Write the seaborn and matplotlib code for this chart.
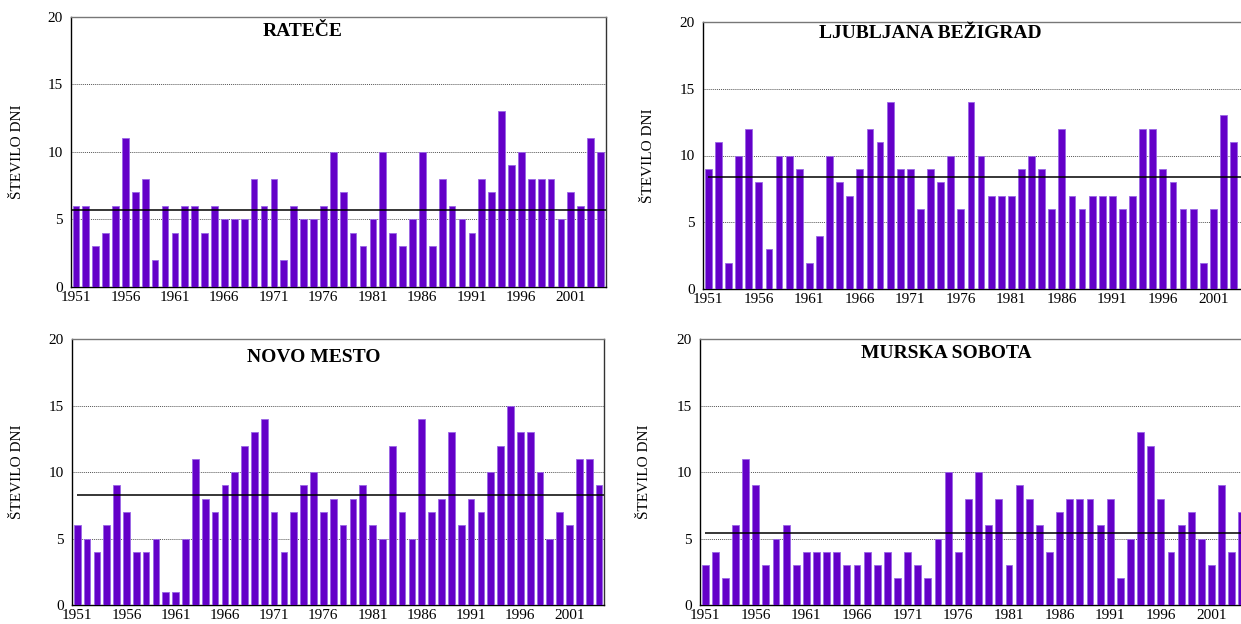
import numpy as np
import pandas as pd
import matplotlib
matplotlib.use("Agg")
import matplotlib.pyplot as plt
import seaborn as sns

# Yearly number of days per station
years_all = list(range(1951, 2005))

ratece = [6, 6, 3, 4, 6, 11, 7, 8, 2, 6,
          4, 6, 6, 4, 6, 5, 5, 5, 8, 6,
          8, 2, 6, 5, 5, 6, 10, 7, 4, 3,
          5, 10, 4, 3, 5, 10, 3, 8, 6, 5,
          4, 8, 7, 13, 9, 10, 8, 8, 8, 5,
          7, 6, 11, 10]

ljubljana = [9, 11, 2, 10, 12, 8, 3, 10, 10, 9,
             2, 4, 10, 8, 7, 9, 12, 11, 14, 9,
             9, 6, 9, 8, 10, 6, 14, 10, 7, 7,
             7, 9, 10, 9, 6, 12, 7, 6, 7, 7,
             7, 6, 7, 12, 12, 9, 8, 6, 6, 2,
             6, 13, 11]

novo_mesto = [6, 5, 4, 6, 9, 7, 4, 4, 5, 1,
              1, 5, 11, 8, 7, 9, 10, 12, 13, 14,
              7, 4, 7, 9, 10, 7, 8, 6, 8, 9,
              6, 5, 12, 7, 5, 14, 7, 8, 13, 6,
              8, 7, 10, 12, 15, 13, 13, 10, 5, 7,
              6, 11, 11, 9]

murska_sobota = [3, 4, 2, 6, 11, 9, 3, 5, 6, 3,
                 4, 4, 4, 4, 3, 3, 4, 3, 4, 2,
                 4, 3, 2, 5, 10, 4, 8, 10, 6, 8,
                 3, 9, 8, 6, 4, 7, 8, 8, 8, 6,
                 8, 2, 5, 13, 12, 8, 4, 6, 7, 5,
                 3, 9, 4, 7]

station_names = ["RATEČE", "LJUBLJANA BEŽIGRAD", "NOVO MESTO", "MURSKA SOBOTA"]
station_values = [ratece, ljubljana, novo_mesto, murska_sobota]

ref_start, ref_end = 1961, 1990
y_ticks = [0, 5, 10, 15, 20]
x_label_years = list(range(1951, 2005, 5))
y_label = "ŠTEVILO DNI"

W, H = 1241, 624
sns.set_style("white")
plt.rcParams["font.family"] = ["Liberation Serif", "DejaVu Serif"]
plt.rcParams.update({"text.color": "black", "xtick.color": "black",
                     "ytick.color": "black", "axes.labelcolor": "black"})
fig = plt.figure(figsize=(W / 100, H / 100), dpi=100)

bar_color = "#6400C8"
edge_color = "#9A66E6"

# panel layout in pixels: left, top, width, bottom; title position; mean-line start
panels = [
    dict(box=(71, 16.7, 534.5, 286.7), title=(0.434, 0.945), line_start=-0.5, ylab_x=18),
    dict(box=(703.3, 21.7, 545.4, 289.3), title=(0.416, 0.955), line_start=0.0, ylab_x=648),
    dict(box=(72.3, 339.3, 531.7, 605.0), title=(0.455, 0.932), line_start=0.0, ylab_x=18),
    dict(box=(700.0, 339.3, 547.0, 605.0), title=(0.450, 0.945), line_start=0.0, ylab_x=645),
]

for name, vals, p in zip(station_names, station_values, panels):
    left, top, width, bottom = p["box"]
    ax = fig.add_axes([left / W, 1 - bottom / H, width / W, (bottom - top) / H])

    yrs = years_all[:len(vals)]
    df = pd.DataFrame({"year": [str(y) for y in yrs], "days": vals})
    sns.barplot(data=df, x="year", y="days", order=[str(y) for y in yrs],
                color=bar_color, saturation=1, width=0.68, errorbar=None,
                edgecolor=edge_color, linewidth=0.6, ax=ax, zorder=3)

    n = len(years_all)
    ax.set_xlim(-0.5, n - 0.5)
    ax.set_ylim(0, 20)

    # 1961-1990 average
    ref_vals = [v for y, v in zip(yrs, vals) if ref_start <= y <= ref_end]
    mean_val = float(np.mean(ref_vals))
    ax.hlines(mean_val, p["line_start"], n - 0.5, color="black", lw=1.1, zorder=4)

    # gridlines
    for yv in y_ticks[1:-1]:
        ax.axhline(yv, color="#555555", lw=0.7, ls=(0, (1, 1)), zorder=1)

    ax.set_yticks(y_ticks)
    ax.set_yticklabels([str(v) for v in y_ticks], fontsize=11)
    ax.tick_params(axis="y", direction="out", length=4, width=0.8, color="black", pad=2)

    pos = [years_all.index(y) for y in x_label_years]
    ax.set_xticks(pos)
    ax.set_xticklabels([str(y) for y in x_label_years], fontsize=11)
    ax.tick_params(axis="x", which="major", length=0, pad=3)
    ax.set_xticks(np.arange(-0.5, n, 1.0), minor=True)
    ax.tick_params(axis="x", which="minor", direction="inout", length=6, width=0.8, color="black")

    ax.set_xlabel("")
    ax.set_ylabel("")
    fig.text(p["ylab_x"] / W, 1 - ((top + bottom) / 2) / H, y_label, rotation=90,
             ha="center", va="center", fontsize=11)

    for side in ["left", "bottom"]:
        ax.spines[side].set_visible(True)
        ax.spines[side].set_color("black")
        ax.spines[side].set_linewidth(1.0)
    ax.spines["top"].set_visible(True)
    ax.spines["top"].set_color("#777777")
    ax.spines["top"].set_linewidth(1.0)
    ax.spines["right"].set_visible(True)
    ax.spines["right"].set_color("#333333")
    ax.spines["right"].set_linewidth(1.0)

    ax.text(p["title"][0], p["title"][1], name, transform=ax.transAxes,
            ha="center", va="center", fontsize=14, fontweight="bold", zorder=5)

fig.savefig("out.png", dpi=100)
